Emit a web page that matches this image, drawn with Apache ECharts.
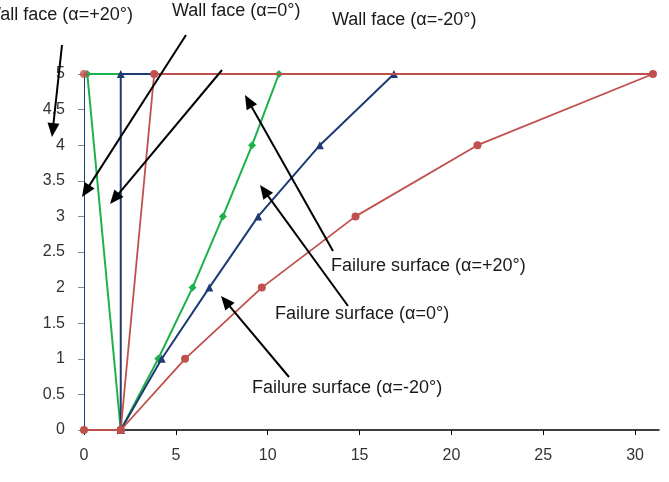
<!DOCTYPE html>
<html>
<head>
<meta charset="utf-8">
<script src="https://cdn.jsdelivr.net/npm/echarts@6/dist/echarts.min.js"></script>
<style>
html,body{margin:0;padding:0;background:#fff;}
#c{width:669px;height:482px;}
</style>
</head>
<body>
<div id="c"></div>
<script>
// ---- data ----
const xTicks = [0, 5, 10, 15, 20, 25, 30];
const yTicks = [0, 0.5, 1, 1.5, 2, 2.5, 3, 3.5, 4, 4.5, 5];
const depthLevels = [0, 1, 2, 3, 4, 5];
const wallToe = [2, 0];
// α = +20°
const wallTopPlus20 = [0.18, 5];
const failurePlus20X = [2, 4.04, 5.91, 7.56, 9.15, 10.61];
// α = 0°
const wallTopZero = [2, 5];
const failureZeroX = [2, 4.23, 6.82, 9.48, 12.84, 16.87];
// α = -20°
const wallTopMinus20 = [3.82, 5];
const failureMinus20X = [2, 5.5, 9.68, 14.78, 21.42, 30.97];
const baseLine = [[0, 0], [2, 0]];
const cornerPoint = [[0, 5]];

const labels = {
  wallPlus20: 'Wall face (α=+20°)',
  wallZero: 'Wall face (α=0°)',
  wallMinus20: 'Wall face (α=-20°)',
  failPlus20: 'Failure surface (α=+20°)',
  failZero: 'Failure surface (α=0°)',
  failMinus20: 'Failure surface (α=-20°)'
};

function buildPath(wallTop, failX) {
  const pts = [wallToe.slice(), wallTop.slice()];
  for (let i = failX.length - 1; i >= 0; i--) pts.push([failX[i], depthLevels[i]]);
  return pts;
}

const RED = '#C0504D', GREEN = '#1DB04B', NAVY = '#1F3B73';
const FONT = 'Liberation Sans';

const chart = echarts.init(document.getElementById('c'), null, {renderer: 'canvas'});

const option = {
  animation: false,
  backgroundColor: '#fff',
  grid: {left: 84, right: 10, top: 74, bottom: 52, containLabel: false},
  xAxis: {
    type: 'value', min: 0, max: 31.3,
    splitLine: {show: false},
    axisLine: {show: true, onZero: false, lineStyle: {color: '#000', width: 1.5}},
    axisTick: {show: true, inside: false, length: 5, lineStyle: {color: '#000'}, customValues: xTicks},
    axisLabel: {customValues: xTicks, margin: 18, fontFamily: FONT, fontSize: 16, color: '#333'}
  },
  yAxis: {
    type: 'value', min: 0, max: 5, interval: 0.5,
    splitLine: {show: false},
    axisLine: {show: true, onZero: false, lineStyle: {color: NAVY, width: 1}},
    axisTick: {show: true, inside: false, length: 6, lineStyle: {color: '#888'}},
    axisLabel: {margin: 19, fontFamily: FONT, fontSize: 16, color: '#333',
      formatter: v => String(v)}
  },
  series: [
    {type: 'line', data: buildPath(wallTopPlus20, failurePlus20X), symbol: 'diamond', symbolSize: 8,
      lineStyle: {color: GREEN, width: 2}, itemStyle: {color: GREEN}, z: 2},
    {type: 'line', data: buildPath(wallTopZero, failureZeroX), symbol: 'triangle', symbolSize: 8,
      lineStyle: {color: NAVY, width: 2}, itemStyle: {color: NAVY}, z: 3},
    {type: 'line', data: buildPath(wallTopMinus20, failureMinus20X), symbol: 'circle', symbolSize: 8,
      lineStyle: {color: RED, width: 1.8}, itemStyle: {color: RED}, z: 4},
    {type: 'line', data: baseLine, symbol: 'circle', symbolSize: 8,
      lineStyle: {color: RED, width: 2}, itemStyle: {color: RED}, z: 5},
    {type: 'scatter', data: cornerPoint, symbol: 'circle', symbolSize: 8,
      itemStyle: {color: RED}, z: 5}
  ]
};
chart.setOption(option);

// ---- annotations (text + arrows) ----
function arrow(x1, y1, x2, y2) {
  const dx = x2 - x1, dy = y2 - y1, len = Math.hypot(dx, dy);
  const ux = dx / len, uy = dy / len, L = 14, W = 6;
  const bx = x2 - ux * L, by = y2 - uy * L;
  return [
    {type: 'line', shape: {x1: x1, y1: y1, x2: bx + ux * 2, y2: by + uy * 2},
      style: {stroke: '#000', lineWidth: 2}, z: 100},
    {type: 'polygon', shape: {points: [[x2, y2], [bx - uy * W, by + ux * W], [bx + uy * W, by - ux * W]]},
      style: {fill: '#000'}, z: 100}
  ];
}
function txt(s, x, y, align) {
  return {type: 'text', x: x, y: y, z: 100,
    style: {text: s, font: '18px "' + FONT + '"', fill: '#1a1a1a',
      align: align, verticalAlign: 'middle', textAlign: align, textVerticalAlign: 'middle'}};
}
const g = [].concat(
  arrow(62, 45, 52, 137),
  arrow(186, 35, 82, 197),
  arrow(222, 70, 110, 204),
  arrow(333, 251, 245, 95),
  arrow(348, 306, 260, 185),
  arrow(289, 377, 221, 296),
  [
    txt(labels.wallPlus20, 133, 15, 'right'),
    txt(labels.wallZero, 172, 11, 'left'),
    txt(labels.wallMinus20, 332, 20, 'left'),
    txt(labels.failPlus20, 331, 266, 'left'),
    txt(labels.failZero, 275, 314, 'left'),
    txt(labels.failMinus20, 252, 388, 'left')
  ]
);
chart.setOption({graphic: {elements: g}});
</script>
</body>
</html>
